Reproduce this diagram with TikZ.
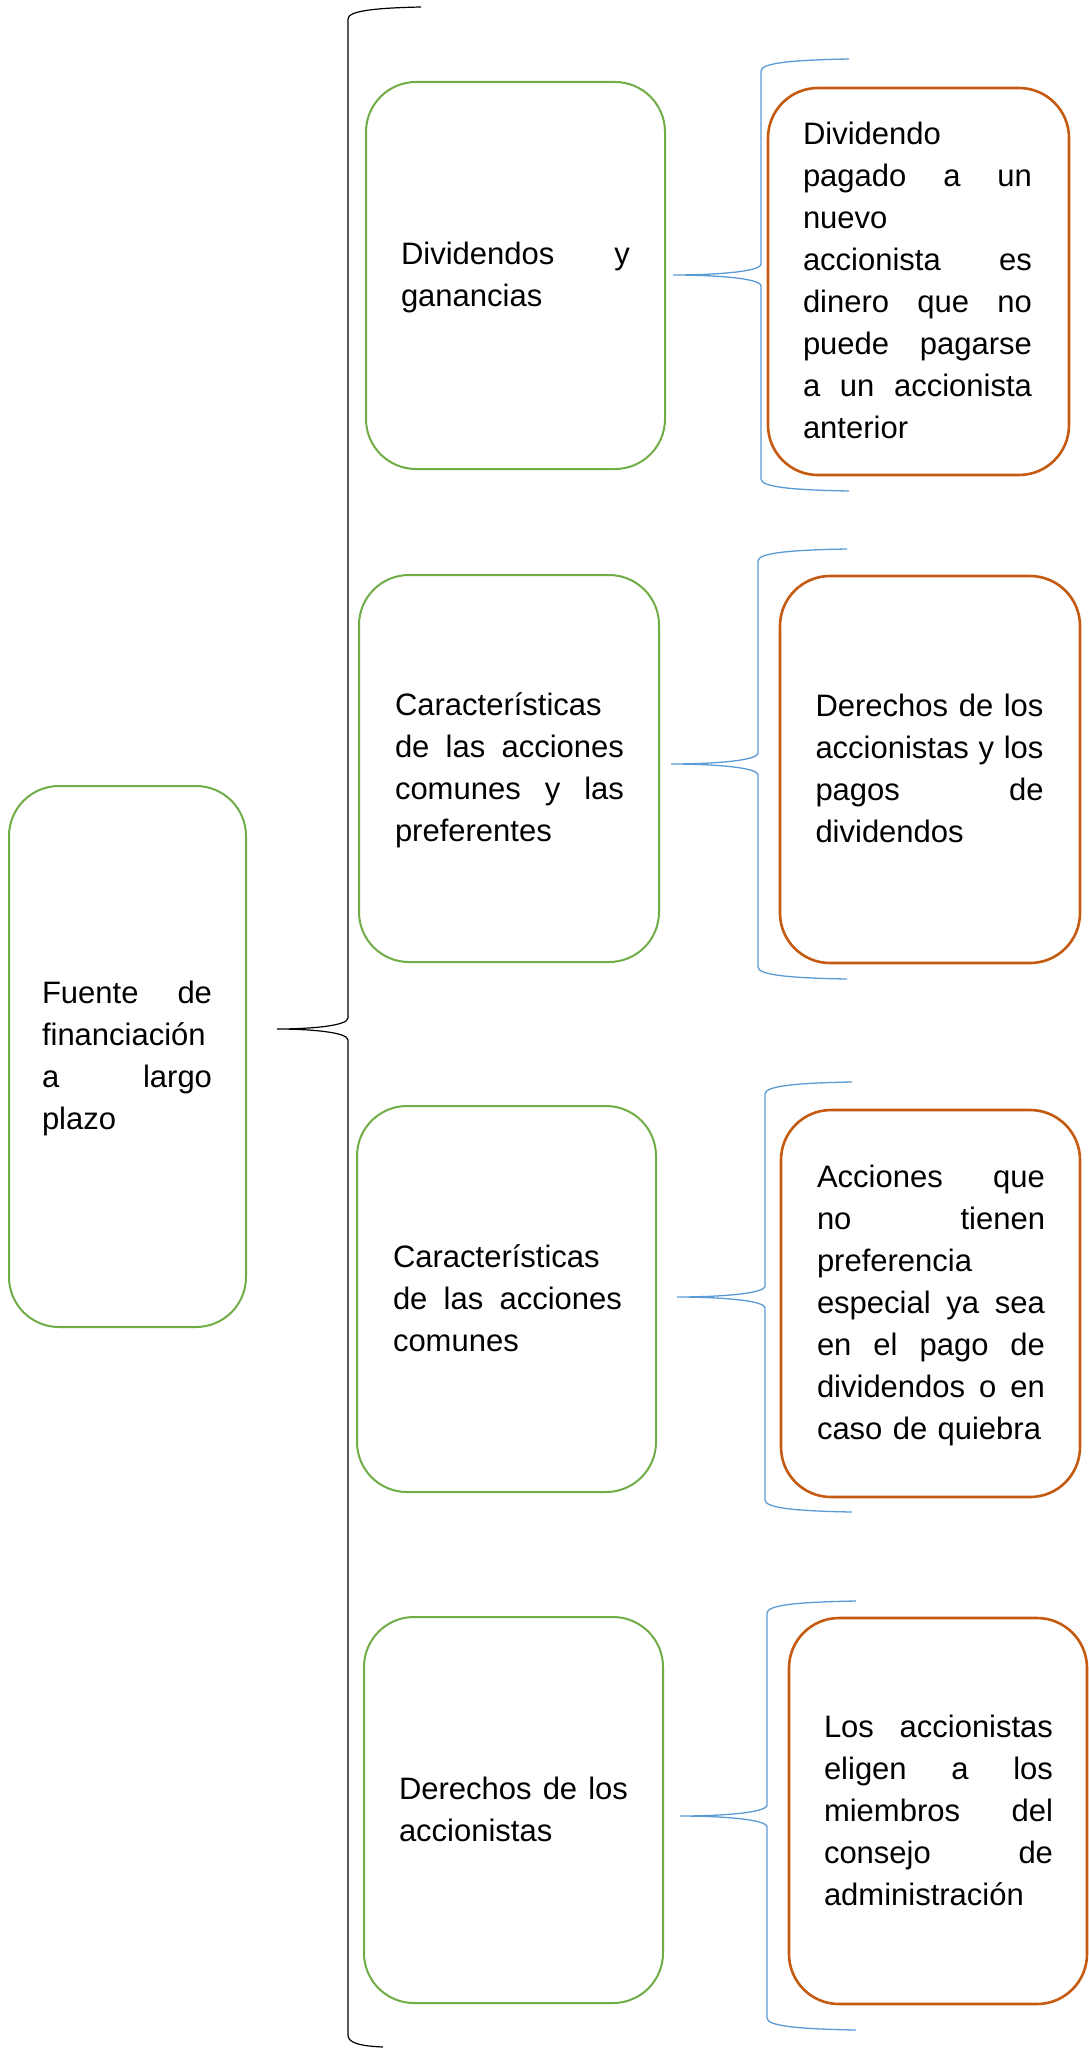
\documentclass[tikz,border=0pt]{standalone}
\usepackage{fontspec}
\setmainfont{Liberation Sans}
\definecolor{grn}{RGB}{112,173,71}
\definecolor{org}{RGB}{197,90,17}
\definecolor{blu}{RGB}{91,155,213}
\newcommand\jl[1]{\leavevmode\hbox to \linewidth{\spaceskip=\fontdimen2\font plus 1fil\relax #1}}
% #1 style, #2 x top end, #3 x vertical, #4 x tip, #5 y top, #6 y tip, #7 y bottom, #8 x bottom end
\newcommand\bracedraw[8]{%
  \draw[#1] (#2,#5) .. controls ({#2-0.65*(#2-#3)},{#5+1}) and (#3,{#5+4}) .. (#3,{#5+12})
    -- (#3,{#6-11}) .. controls (#3,{#6-3}) and ({#3-0.55*(#3-#4)},#6) .. (#4,#6)
    .. controls ({#3-0.55*(#3-#4)},#6) and (#3,{#6+3}) .. (#3,{#6+11})
    -- (#3,{#7-12}) .. controls (#3,{#7-4}) and ({#8-0.65*(#8-#3)},{#7-1}) .. (#8,#7);}
\begin{document}
\begin{tikzpicture}[x=1pt,y=-1pt,
  box/.style={rectangle, rounded corners=50pt, inner sep=0pt, outer sep=0pt},
  gbox/.style={box, draw=grn, line width=2pt},
  obox/.style={box, draw=org, line width=2.6pt},
  txt/.style={anchor=base west, inner sep=0pt, outer sep=0pt, align=left, text width=229pt,
    font=\fontsize{31pt}{42pt}\selectfont},
  blackbrace/.style={draw=black, line width=1.2pt},
  bluebrace/.style={draw=blu, line width=1.3pt}]
\useasboundingbox[fill=white] (0,0) rectangle (1088,2049);

% left box
\node[gbox, minimum width=237pt, minimum height=541pt] (L) at (127.5,1056.5) {};
\node[txt, text width=170pt] (tL) at (42,1003.5) {\jl{Fuente de}\\financiación\\\jl{a largo}\\plazo};

% green boxes
\node[gbox, minimum width=299pt, minimum height=387pt] (g1) at (515.5,275.5) {};
\node[gbox, minimum width=300pt, minimum height=387pt] (g2) at (509,768.5) {};
\node[gbox, minimum width=299pt, minimum height=386pt] (g3) at (506.5,1299) {};
\node[gbox, minimum width=299pt, minimum height=386pt] (g4) at (513.5,1810) {};

\node[txt] (t1) at (401,264.5) {\jl{Dividendos y}\\ganancias};
\node[txt] (t2) at (395,715.5) {Características\\\jl{de las acciones}\\\jl{comunes y las}\\preferentes};
\node[txt] (t3) at (393,1267) {Características\\\jl{de las acciones}\\comunes};
\node[txt] (t4) at (399,1799) {\jl{Derechos de los}\\accionistas};

% orange boxes
\node[obox, minimum width=301pt, minimum height=387pt] (oA) at (918.5,281.5) {};
\node[obox, minimum width=300pt, minimum height=387pt] (oB) at (930,769.5) {};
\node[obox, minimum width=299pt, minimum height=387pt] (oC) at (930.5,1303.5) {};
\node[obox, minimum width=298pt, minimum height=386pt] (oD) at (938,1811) {};

\node[txt] (tA) at (803,144.5) {Dividendo\\\jl{pagado a un}\\nuevo\\\jl{accionista es}\\\jl{dinero que no}\\\jl{puede pagarse}\\\jl{a un accionista}\\anterior};
\node[txt, text width=228pt] (tB) at (815.5,716.5) {\jl{Derechos de los}\\\jl{accionistas y los}\\\jl{pagos de}\\dividendos};
\node[txt, text width=228pt] (tC) at (817,1187.5) {\jl{Acciones que}\\\jl{no tienen}\\preferencia\\\jl{especial ya sea}\\\jl{en el pago de}\\\jl{dividendos o en}\\caso de quiebra};
\node[txt] (tD) at (824,1737) {\jl{Los accionistas}\\\jl{eligen a los}\\\jl{miembros del}\\\jl{consejo de}\\administración};

% big black brace
\bracedraw{blackbrace}{421}{348}{277}{7}{1029}{2047}{383}

% blue braces
\bracedraw{bluebrace}{849}{761}{673}{59}{275}{491}{849}
\bracedraw{bluebrace}{847}{758}{671}{549}{764}{979}{847}
\bracedraw{bluebrace}{852}{765}{677}{1082}{1297}{1512}{852}
\bracedraw{bluebrace}{856}{767}{680}{1601}{1816}{2030}{856}
\end{tikzpicture}
\end{document}
